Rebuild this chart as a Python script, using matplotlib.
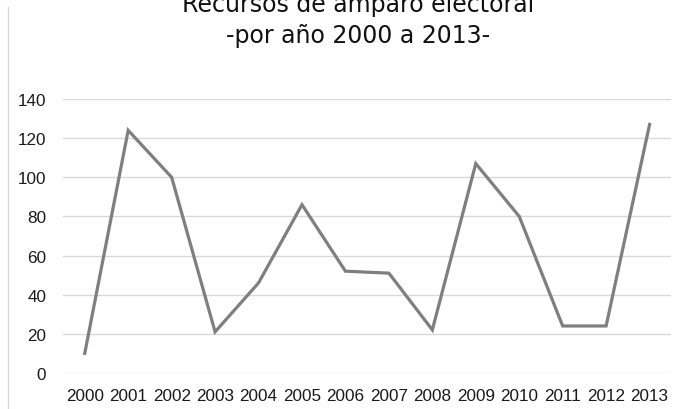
import matplotlib.pyplot as plt
from matplotlib.lines import Line2D

years = ['2000', '2001', '2002', '2003', '2004', '2005', '2006',
         '2007', '2008', '2009', '2010', '2011', '2012', '2013']
recursos = [10, 124, 100, 21, 46, 86, 52, 51, 22, 107, 80, 24, 24, 127]
yticks = [0, 20, 40, 60, 80, 100, 120, 140]

plt.rcParams['font.family'] = 'Liberation Sans'

fig = plt.figure(figsize=(6.85, 4.10), dpi=100)
ax = fig.add_axes([0.092, 0.088, 0.888, 0.668])

ax.plot(range(len(years)), recursos, color='#7f7f7f', lw=2.3,
        solid_joinstyle='miter', zorder=3)

ax.set_xlim(-0.5, len(years) - 0.5)
ax.set_ylim(0, 140)
ax.set_yticks(yticks)
ax.set_xticks(range(len(years)))
ax.set_xticklabels(years)
ax.yaxis.grid(True, color='#d9d9d9', lw=1)
ax.set_axisbelow(True)
for s in ax.spines.values():
    s.set_visible(False)
ax.tick_params(length=0, labelsize=12.3, labelcolor='#1a1a1a')
ax.tick_params(axis='y', pad=12)
ax.tick_params(axis='x', pad=11)

# chart border, only its left edge is visible
fig.add_artist(Line2D([0.012, 0.012], [0, 0.98], color='#d9d9d9', lw=1))

# title block sits partly above the top edge
fig.text(0.523, 0.971, 'Recursos de amparo electoral', ha='center',
         va='baseline', fontsize=17, family='DejaVu Sans', color='#111111')
fig.text(0.523, 0.895, '-por año 2000 a 2013-', ha='center',
         va='baseline', fontsize=17, family='DejaVu Sans', color='#111111')

fig.savefig('out.png', dpi=100)
